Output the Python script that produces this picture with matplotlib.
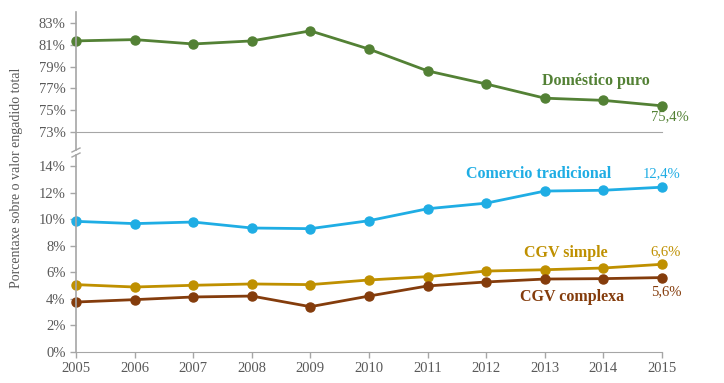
import matplotlib
matplotlib.use("Agg")
import matplotlib.pyplot as plt
from matplotlib.lines import Line2D

plt.rcParams['font.family'] = ['Liberation Serif', 'DejaVu Serif']

anos = [2005, 2006, 2007, 2008, 2009, 2010, 2011, 2012, 2013, 2014, 2015]
domestico = [81.35, 81.47, 81.07, 81.35, 82.27, 80.6, 78.6, 77.4, 76.1, 75.9, 75.4]
comercio = [9.83, 9.66, 9.78, 9.33, 9.28, 9.88, 10.78, 11.2, 12.11, 12.17, 12.4]
cgv_simple = [5.07, 4.89, 5.02, 5.12, 5.07, 5.42, 5.67, 6.09, 6.19, 6.32, 6.6]
cgv_complexa = [3.76, 3.94, 4.14, 4.21, 3.41, 4.21, 4.97, 5.27, 5.49, 5.52, 5.6]

ticks_top = [73, 75, 77, 79, 81, 83]
ticks_bot = [0, 2, 4, 6, 8, 10, 12, 14]

verde = '#538135'
azul = '#1fade4'
ouro = '#bf9000'
marron = '#843c0c'
gris = '#595959'
eixo = '#a6a6a6'

W, H = 724, 383
fig = plt.figure(figsize=(W / 100, H / 100), dpi=100)

def fy(px):
    return 1 - px / H

left = 76 / W
right = 662 / W
ax1 = fig.add_axes([left, fy(132), right - left, fy(12) - fy(132)])
ax2 = fig.add_axes([left, fy(352), right - left, fy(148) - fy(352)])

for ax in (ax1, ax2):
    for s in ('top', 'right', 'left'):
        ax.spines[s].set_visible(False)
    ax.spines['bottom'].set_color(eixo)
    ax.set_xlim(2005, 2015)
    ax.tick_params(axis='both', colors=eixo, labelcolor=gris, labelsize=10.5,
                   length=4, width=1, direction='out')
    ax.set_facecolor('none')

ax1.set_ylim(73, 84)
ax1.set_yticks(ticks_top)
ax1.set_yticklabels([str(t) + '%' for t in ticks_top])
ax1.tick_params(axis='x', bottom=False, labelbottom=False)
ax1.set_xticks(anos)

ax2.set_ylim(0, 15.35)
ax2.set_yticks(ticks_bot)
ax2.set_yticklabels([str(t) + '%' for t in ticks_bot])
ax2.set_xticks(anos)
ax2.set_xticklabels([str(a) for a in anos])

kw = dict(lw=2, marker='o', markersize=6.5, clip_on=False)
ax1.plot(anos, domestico, color=verde, **kw)
ax2.plot(anos, comercio, color=azul, **kw)
ax2.plot(anos, cgv_simple, color=ouro, **kw)
ax2.plot(anos, cgv_complexa, color=marron, **kw)

# eixo vertical con corte
for y0, y1 in ((12, 150), (155, 352)):
    fig.add_artist(Line2D([left, left], [fy(y0), fy(y1)], color=eixo, lw=1.2,
                          transform=fig.transFigure))
for yc in (150, 155):
    fig.add_artist(Line2D([left - 4 / W, left + 4 / W], [fy(yc + 2), fy(yc - 2)],
                          color=eixo, lw=1, transform=fig.transFigure))

# etiquetas
def etiqueta(x, y, txt, col, bold=False, size=11.5):
    fig.text(x / W, fy(y), txt, color=col, ha='center', va='center',
             fontsize=size, fontweight='bold' if bold else 'normal')

etiqueta(596, 81, 'Doméstico puro', verde, True)
etiqueta(670, 117, '75,4%', verde, size=10.5)
etiqueta(539, 174, 'Comercio tradicional', azul, True)
etiqueta(662, 174, '12,4%', azul, size=10.5)
etiqueta(566, 253, 'CGV simple', ouro, True)
etiqueta(666, 252, '6,6%', ouro, size=10.5)
etiqueta(572, 297, 'CGV complexa', marron, True)
etiqueta(666, 292, '5,6%', marron, size=10.5)

fig.text(17 / W, fy(178), 'Porcentaxe sobre o valor engadido total', rotation=90,
         ha='center', va='center', color=gris, fontsize=10)

fig.savefig('out.png', dpi=100)
